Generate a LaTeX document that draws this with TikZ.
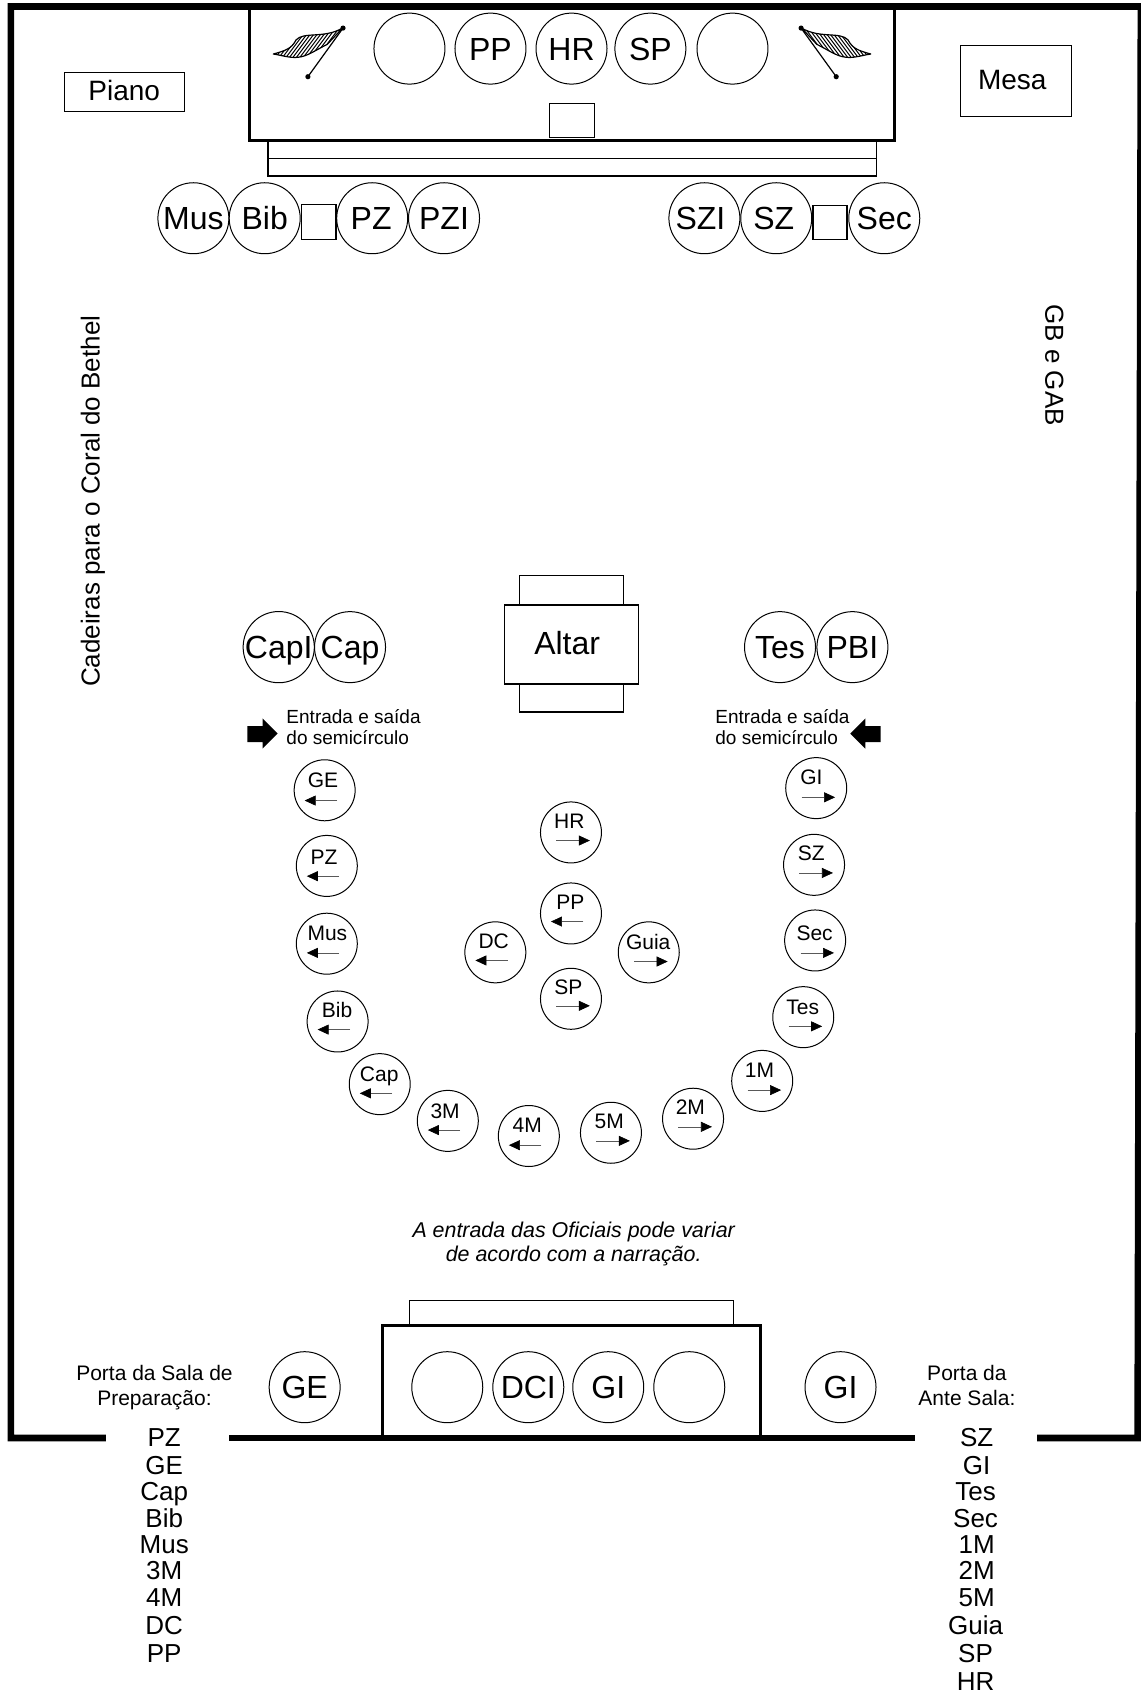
\documentclass[tikz,border=0pt]{standalone}
\usepackage{fontspec}
\setmainfont{Liberation Sans}
\usetikzlibrary{arrows.meta}
\newcommand{\fs}[2]{\fontsize{#1}{#2}\selectfont}
\tikzset{
  wall/.style={line width=6.6pt,line join=miter,line cap=butt},
  stage/.style={draw,line width=3pt},
  thinbox/.style={draw,line width=1.3pt},
  bigseat/.style={draw,circle,line width=1pt,minimum size=71pt,inner sep=0pt,font=\fs{32}{36},text height=23pt,text depth=0pt},
  smallseat/.style={draw,circle,line width=1pt,minimum size=61pt,inner sep=0pt},
  seatlabel/.style={inner sep=0pt,font=\fs{21}{24},text height=15pt,text depth=0pt},
  seatarrow/.style={draw=black!65,line width=.6pt,-{Triangle[length=11pt,width=10pt,fill=black,color=black]}},
  mediumtext/.style={inner sep=0pt,font=\fs{28}{32},text height=20pt,text depth=0pt},
  altartext/.style={inner sep=0pt,font=\fs{32}{36},text height=23pt,text depth=0pt},
  listtext/.style={inner sep=0pt,font=\fs{26}{30},text height=18.7pt,text depth=0pt},
  noteblock/.style={inner sep=0pt,align=center,font=\fs{21}{25}},
  italicblock/.style={inner sep=0pt,align=center,font=\fs{21.4}{24}\itshape},
  entryblock/.style={inner sep=0pt,align=left,font=\fs{19}{21.6}},
  sidetext/.style={inner sep=0pt,font=\fs{26}{30}},
  blockarrow/.style={fill=black,draw=none},
}
\newcommand{\seatR}[7]{%
  \node[smallseat] (#1) at (#2+.5,#3+.5) {};
  \node[seatlabel] (#1-t) at (#2+#5,#3+#6) {#4};
  \coordinate (#1-a) at (#2-13,#3+#7);
  \coordinate (#1-b) at (#2+18,#3+#7);
  \draw[seatarrow] (#1-a) -- (#1-b);
}
\newcommand{\seatL}[7]{%
  \node[smallseat] (#1) at (#2+.5,#3+.5) {};
  \node[seatlabel] (#1-t) at (#2+#5,#3+#6) {#4};
  \coordinate (#1-a) at (#2+12,#3+#7);
  \coordinate (#1-b) at (#2-18,#3+#7);
  \draw[seatarrow] (#1-a) -- (#1-b);
}
\newcommand{\flagicon}{%
  \begin{scope}
    \clip (253,50) .. controls (264,47) and (270,45) .. (274,37)
      .. controls (281,29) and (300,36) .. (317,26)
      -- (303,41)
      .. controls (291,47) and (285,52) .. (276,53)
      .. controls (269,54) and (260,51) .. (253,50) -- cycle;
    \foreach \k in {0,...,24} {
      \draw[line width=1pt] (270+3.2*\k,12) -- ++(-33,44);
    }
  \end{scope}
  \draw[line width=1.2pt,line join=round] (253,50) .. controls (264,47) and (270,45) .. (274,37)
      .. controls (281,29) and (300,36) .. (317,26)
      -- (303,41)
      .. controls (291,47) and (285,52) .. (276,53)
      .. controls (269,54) and (260,51) .. (253,50) -- cycle;
  \draw[line width=1.2pt] (317.5,26) -- (285,71);
  \fill (317.5,26) circle (2.4);
  \fill (285,71) circle (2.4);
}
\begin{document}
\begin{tikzpicture}[x=1.0805pt,y=-1.0805pt]
\useasboundingbox (0,0) rectangle (1056,1568);
\fill[white] (0,0) rectangle (1056,1568);

% walls
\draw[wall] (98,1331) -- (10,1331) -- (10,6) -- (1056,6) -- (1053,1331) -- (960,1331);
\draw[wall] (212,1331) -- (847,1331);

% top platform
\path[thinbox] (248,131) rectangle (811,147);
\path[thinbox] (248,147) rectangle (811,163);
\path[stage] (231,6) rectangle (828,130);
\node[bigseat] (t1) at (379,45) {};
\node[bigseat] (t2) at (454,45) {PP};
\node[bigseat] (t3) at (529,45) {HR};
\node[bigseat] (t4) at (602,45) {SP};
\node[bigseat] (t5) at (678,45) {};
\path[thinbox] (508.5,96) rectangle (550,127);
\flagicon
\begin{scope}[shift={(1059,0)},xscale=-1]
\flagicon
\end{scope}

% furniture
\path[thinbox] (60,67) rectangle (171,103);
\node[mediumtext] (piano) at (115,84) {Piano};
\path[thinbox] (889,42) rectangle (992,108);
\node[mediumtext] (mesa) at (937,74) {Mesa};

% second row
\node[bigseat] (r1) at (179,202) {Mus};
\node[bigseat] (r2) at (245,202) {Bib};
\path[thinbox] (279,189) rectangle (311,222);
\node[bigseat] (r3) at (344.5,202) {PZ\hspace*{2pt}};
\node[bigseat] (r4) at (411,202) {PZI};
\node[bigseat] (r5) at (652,202) {SZI\hspace*{8pt}};
\node[bigseat] (r6) at (718.5,202) {SZ\hspace*{5pt}};
\path[thinbox] (752.5,190) rectangle (784,222);
\node[bigseat] (r7) at (818.5,202) {Sec};

% side texts
\node[sidetext,rotate=90] (coral) at (86,464) {Cadeiras para o Coral do Bethel};
\node[sidetext,rotate=-90] (gab) at (976,338) {GB e GAB};

% altar
\path[thinbox] (481,533) rectangle (577,560);
\path[thinbox] (481,633) rectangle (577,659);
\path[thinbox] (467,560) rectangle (591,633);
\node[altartext] (altar) at (525,595) {Altar};
\node[bigseat] (c1) at (258,599) {CapI};
\node[bigseat] (c2) at (324,599) {Cap};
\node[bigseat] (c3) at (722,599) {Tes};
\node[bigseat] (c4) at (789,599) {PBI};

% entry arrows
\fill[blockarrow] (229,672) -- (243,672) -- (243,665) -- (257,679) -- (243,693) -- (243,687) -- (229,687) -- cycle;
\fill[blockarrow] (815,672) -- (801,672) -- (801,665) -- (787,679) -- (801,693) -- (801,687) -- (815,687) -- cycle;
\node[entryblock,anchor=west] (e1) at (265,673) {Entrada e saída\\do semicírculo};
\node[entryblock,anchor=west] (e2) at (662,673) {Entrada e saída\\do semicírculo};

% semicircle
\seatL{a1}{300}{731}{GE}{-1}{-9}{10}
\seatL{a2}{302}{801}{PZ}{-2}{-8}{10}
\seatL{a3}{302}{873}{Mus}{1}{-9}{9}
\seatL{a4}{312}{945}{Bib}{0}{-10}{8}
\seatL{a5}{351}{1003}{Cap}{0}{-9}{9}
\seatL{a6}{414}{1037}{3M}{-2}{-9}{9}
\seatL{a7}{489}{1051}{4M}{-1}{-10}{9}
\seatR{a8}{565}{1048}{5M}{-1}{-10}{8}
\seatR{a9}{641}{1035}{2M}{-2}{-10}{8}
\seatR{a10}{705}{1000}{1M}{-2}{-10}{9}
\seatR{a11}{743}{941}{Tes}{0}{-9}{9}
\seatR{a12}{754}{870}{Sec}{0}{-6}{12}
\seatR{a13}{753}{800}{SZ}{-2}{-10}{8}
\seatR{a14}{755}{729}{GI}{-4}{-10}{9}
% centre
\seatR{b1}{528}{770}{HR}{-1}{-10}{8}
\seatL{b2}{528}{845}{PP}{0}{-10}{8}
\seatL{b3}{458}{881}{DC}{-1}{-10}{8}
\seatR{b4}{600}{881}{Guia}{0}{-9}{9}
\seatR{b5}{528}{924}{SP}{-2}{-10}{7}

% note
\node[italicblock] (note) at (531,1151.5) {A entrada das Oficiais pode variar\\de acordo com a narração.};

% bottom platform
\path[thinbox] (379,1204) rectangle (679,1227);
\path[stage] (354,1227) rectangle (704,1331);
\node[bigseat] (d1) at (414,1284) {};
\node[bigseat] (d2) at (489,1284) {DCI};
\node[bigseat] (d3) at (563,1284) {GI};
\node[bigseat] (d4) at (638,1284) {};
\node[bigseat] (d5) at (282,1284) {GE};
\node[bigseat] (d6) at (778,1284) {GI};

\node[noteblock] (p1) at (143,1284) {Porta da Sala de\\Preparação:};
\node[noteblock] (p2) at (895,1282) {Porta da\\Ante Sala:};

% lists
\node[listtext] (l1) at (152,1330) {PZ};
\node[listtext] (l2) at (152,1356) {GE};
\node[listtext] (l3) at (152,1380) {Cap};
\node[listtext] (l4) at (152,1405) {Bib};
\node[listtext] (l5) at (152,1429) {Mus};
\node[listtext] (l6) at (152,1453) {3M};
\node[listtext] (l7) at (152,1478) {4M};
\node[listtext] (l8) at (152,1504) {DC};
\node[listtext] (l9) at (152,1530) {PP};
\node[listtext] (m1) at (904,1330) {SZ};
\node[listtext] (m2) at (904,1356) {GI};
\node[listtext] (m3) at (903,1380) {Tes};
\node[listtext] (m4) at (903,1405) {Sec};
\node[listtext] (m5) at (904,1429) {1M};
\node[listtext] (m6) at (904,1453) {2M};
\node[listtext] (m7) at (904,1478) {5M};
\node[listtext] (m8) at (903,1504) {Guia};
\node[listtext] (m9) at (903,1530) {SP};
\node[listtext] (m10) at (903,1556) {HR};
\end{tikzpicture}
\end{document}
